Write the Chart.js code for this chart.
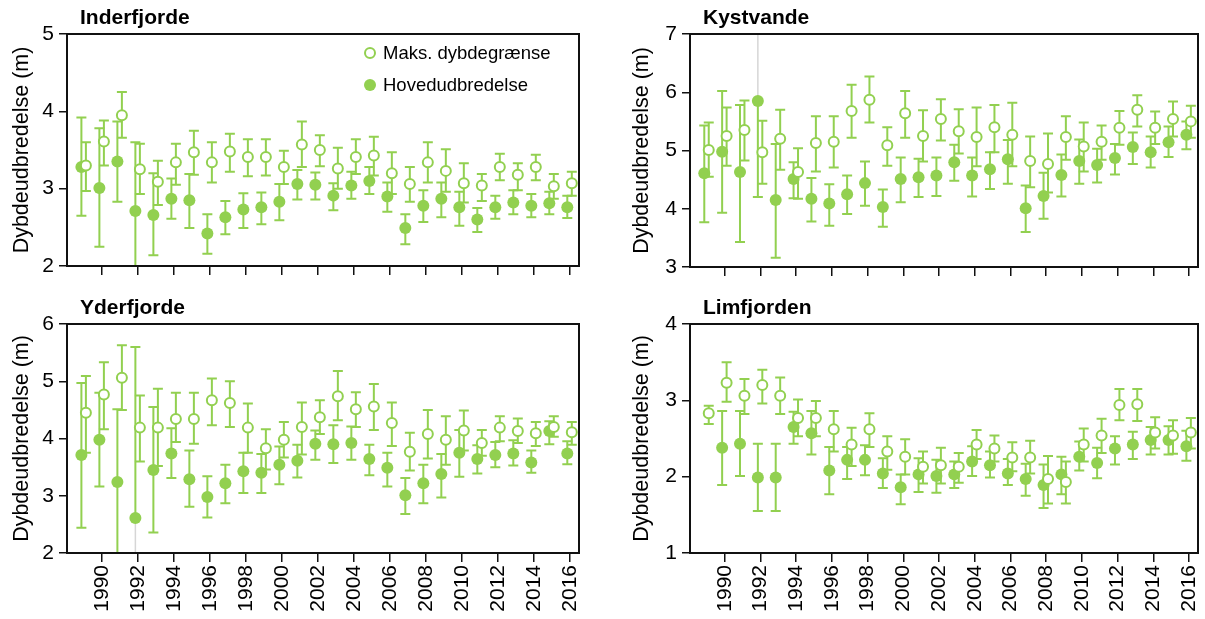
<!DOCTYPE html>
<html>
<head>
<meta charset="utf-8">
<script src="https://cdn.jsdelivr.net/npm/chart.js@4"></script>
<style>
  html, body { margin: 0; padding: 0; background: #fff; }
  #wrap { position: relative; width: 1205px; height: 619px; overflow: hidden; }
  canvas { position: absolute; }
</style>
</head>
<body>
<div id="wrap">
  <canvas id="cInder" width="600" height="290" style="left:0;top:0"></canvas>
  <canvas id="cKyst" width="605" height="290" style="left:600px;top:0"></canvas>
  <canvas id="cYder" width="600" height="329" style="left:0;top:290px"></canvas>
  <canvas id="cLim" width="605" height="329" style="left:600px;top:290px"></canvas>
</div>
<script>
// --- Data ---
const years = [1989, 1990, 1991, 1992, 1993, 1994, 1995, 1996, 1997, 1998, 1999, 2000, 2001, 2002,
               2003, 2004, 2005, 2006, 2007, 2008, 2009, 2010, 2011, 2012, 2013, 2014, 2015, 2016];
const yearTicks = [1990, 1992, 1994, 1996, 1998, 2000, 2002, 2004, 2006, 2008, 2010, 2012, 2014, 2016];

const labelMaks = 'Maks. dybdegrænse';
const labelHoved = 'Hovedudbredelse';
const yTitle = 'Dybdeudbredelse (m)';

// Inderfjorde
const inderMaks   = [3.30, 3.61, 3.95, 3.25, 3.09, 3.34, 3.47, 3.34, 3.48, 3.41, 3.41, 3.28, 3.57, 3.50, 3.26, 3.41, 3.43, 3.20, 3.06, 3.34, 3.23, 3.07, 3.04, 3.28, 3.18, 3.28, 3.03, 3.07];
const inderMaksLo = [2.97, 3.30, 3.66, 2.93, 2.79, 3.05, 3.18, 3.08, 3.22, 3.16, 3.17, 3.06, 3.28, 3.29, 3.00, 3.19, 3.17, 2.93, 2.83, 3.08, 2.96, 2.82, 2.84, 3.11, 2.98, 3.11, 2.87, 2.91];
const inderMaksHi = [3.60, 3.88, 4.25, 3.58, 3.36, 3.58, 3.75, 3.60, 3.71, 3.64, 3.64, 3.49, 3.87, 3.69, 3.53, 3.64, 3.67, 3.47, 3.28, 3.60, 3.51, 3.33, 3.19, 3.45, 3.33, 3.44, 3.19, 3.22];
const inderHoved   = [3.28, 3.01, 3.35, 2.71, 2.66, 2.87, 2.85, 2.42, 2.63, 2.73, 2.76, 2.83, 3.06, 3.05, 2.91, 3.04, 3.10, 2.90, 2.49, 2.78, 2.87, 2.76, 2.60, 2.76, 2.82, 2.78, 2.81, 2.76];
const inderHovedLo = [2.65, 2.25, 2.83, 1.80, 2.14, 2.61, 2.49, 2.16, 2.41, 2.49, 2.54, 2.59, 2.86, 2.86, 2.72, 2.87, 2.93, 2.70, 2.28, 2.57, 2.63, 2.52, 2.44, 2.61, 2.67, 2.63, 2.67, 2.62];
const inderHovedHi = [3.92, 3.78, 3.87, 3.60, 3.20, 3.13, 3.19, 2.67, 2.84, 2.94, 2.95, 3.06, 3.24, 3.21, 3.07, 3.22, 3.28, 3.08, 2.67, 2.98, 3.08, 2.96, 2.75, 2.91, 2.98, 2.93, 2.96, 2.91];

// Kystvande
const kystMaks   = [5.01, 5.25, 5.35, 4.97, 5.20, 4.63, 5.13, 5.15, 5.68, 5.87, 5.09, 5.64, 5.25, 5.54, 5.33, 5.23, 5.40, 5.27, 4.82, 4.77, 5.23, 5.07, 5.15, 5.39, 5.70, 5.39, 5.54, 5.50];
const kystMaksLo = [4.55, 4.74, 4.83, 4.43, 4.67, 4.17, 4.64, 4.71, 5.22, 5.48, 4.74, 5.22, 4.81, 5.17, 4.95, 4.73, 4.97, 4.73, 4.37, 4.28, 4.84, 4.64, 4.84, 5.10, 5.41, 5.11, 5.24, 5.22];
const kystMaksHi = [5.48, 5.74, 5.86, 5.51, 5.70, 5.04, 5.59, 5.59, 6.13, 6.27, 5.40, 6.02, 5.69, 5.88, 5.71, 5.74, 5.78, 5.82, 5.24, 5.29, 5.59, 5.48, 5.43, 5.68, 5.95, 5.67, 5.84, 5.77];
const kystHoved   = [4.61, 4.98, 4.63, 5.85, 4.15, 4.51, 4.17, 4.09, 4.25, 4.44, 4.03, 4.51, 4.54, 4.57, 4.80, 4.57, 4.68, 4.85, 4.01, 4.22, 4.58, 4.82, 4.75, 4.87, 5.06, 4.97, 5.14, 5.27];
const kystHovedLo = [3.77, 3.93, 3.43, 4.20, 3.16, 4.18, 3.78, 3.71, 3.91, 4.05, 3.69, 4.11, 4.20, 4.22, 4.48, 4.21, 4.34, 4.43, 3.60, 3.83, 4.21, 4.43, 4.45, 4.59, 4.77, 4.71, 4.89, 5.02];
const kystHovedHi = [5.43, 6.02, 5.78, null, 5.11, 4.80, 4.53, 4.42, 4.57, 4.81, 4.33, 4.88, 4.86, 4.88, 5.10, 4.88, 4.97, 5.18, 4.40, 4.62, 4.93, 5.19, 5.03, 5.11, 5.31, 5.24, 5.41, 5.50];
const kystGuide = [[1992, 5.85, 7]];   // faint grey line in the original

// Yderfjorde
const yderMaks   = [4.45, 4.77, 5.06, 4.19, 4.19, 4.34, 4.34, 4.67, 4.62, 4.19, 3.83, 3.98, 4.20, 4.37, 4.74, 4.51, 4.56, 4.27, 3.77, 4.08, 3.98, 4.14, 3.92, 4.19, 4.13, 4.09, 4.20, 4.11];
const yderMaksLo = [3.75, 4.16, 4.50, 3.60, 3.52, 3.94, 3.91, 4.23, 4.20, 3.75, 3.46, 3.67, 3.72, 4.08, 4.32, 4.20, 4.15, 3.87, 3.44, 3.65, 3.54, 3.79, 3.70, 3.95, 3.92, 3.87, 4.03, 3.89];
const yderMaksHi = [5.09, 5.33, 5.63, 4.75, 4.87, 4.80, 4.80, 5.05, 5.00, 4.61, 4.16, 4.29, 4.63, 4.67, 5.18, 4.81, 4.95, 4.63, 4.10, 4.50, 4.39, 4.49, 4.15, 4.39, 4.35, 4.29, 4.39, 4.29];
const yderHoved   = [3.71, 3.98, 3.24, 2.61, 3.45, 3.74, 3.29, 2.98, 3.22, 3.43, 3.40, 3.54, 3.61, 3.91, 3.90, 3.92, 3.64, 3.49, 3.01, 3.22, 3.38, 3.75, 3.64, 3.71, 3.74, 3.58, 4.13, 3.74];
const yderHovedLo = [2.44, 3.16, 1.70, null, 2.36, 3.31, 2.81, 2.62, 2.87, 3.05, 3.05, 3.20, 3.32, 3.63, 3.57, 3.63, 3.36, 3.16, 2.68, 2.87, 2.97, 3.33, 3.39, 3.50, 3.53, 3.40, 3.90, 3.55];
const yderHovedHi = [4.97, 4.80, 4.51, 5.60, 4.55, 4.18, 3.79, 3.34, 3.54, 3.75, 3.73, 3.86, 3.89, 4.14, 4.23, 4.21, 3.89, 3.75, 3.31, 3.54, 3.73, 4.15, 3.88, 3.94, 3.97, 3.79, 4.30, 3.95];
const yderGuide = [[1992, 2, 2.61]];

// Limfjorden
const limMaks   = [2.83, 3.23, 3.06, 3.20, 3.06, 2.77, 2.77, 2.62, 2.42, 2.62, 2.33, 2.26, 2.13, 2.15, 2.13, 2.42, 2.37, 2.25, 2.25, 1.97, 1.93, 2.42, 2.54, 2.94, 2.95, 2.58, 2.54, 2.58];
const limMaksLo = [2.69, 2.98, 2.82, 2.96, 2.82, 2.53, 2.53, 2.33, 2.14, 2.39, 2.09, 2.03, 1.91, 1.91, 1.92, 2.23, 2.20, 2.07, 2.04, 1.65, 1.65, 2.20, 2.31, 2.74, 2.73, 2.37, 2.30, 2.37];
const limMaksHi = [2.93, 3.50, 3.28, 3.40, 3.30, 3.01, 2.99, 2.86, 2.64, 2.83, 2.53, 2.49, 2.33, 2.38, 2.31, 2.61, 2.54, 2.45, 2.47, 2.27, 2.20, 2.63, 2.76, 3.15, 3.15, 2.78, 2.74, 2.77];
const limHoved   = [null, 2.38, 2.43, 1.99, 1.99, 2.65, 2.57, 2.08, 2.22, 2.22, 2.04, 1.86, 2.03, 2.01, 2.03, 2.20, 2.15, 2.04, 1.97, 1.89, 2.03, 2.26, 2.18, 2.37, 2.42, 2.48, 2.48, 2.40];
const limHovedLo = [null, 1.89, 2.01, 1.55, 1.55, 2.43, 2.29, 1.77, 1.97, 2.02, 1.85, 1.64, 1.80, 1.79, 1.85, 2.01, 1.99, 1.89, 1.75, 1.59, 1.77, 2.08, 1.98, 2.16, 2.23, 2.29, 2.29, 2.21];
const limHovedHi = [null, 2.86, 2.86, 2.43, 2.43, 2.85, 2.86, 2.39, 2.39, 2.41, 2.24, 2.03, 2.24, 2.22, 2.20, 2.40, 2.33, 2.23, 2.17, 2.16, 2.26, 2.46, 2.38, 2.53, 2.59, 2.65, 2.66, 2.60];

// --- Styling ---
const GREEN = '#92D050';
const FONT = '"Liberation Sans", Arial, sans-serif';
const X_MIN = 1988.05, X_MAX = 2016.5;
const DODGE_HOVED = -0.15, DODGE_MAKS = 0.1;

// error bars drawn right before each dataset's points
const errorBars = {
    id: 'errorBars',
    beforeDatasetDraw(chart, args) {
        const ds = chart.data.datasets[args.index];
        if (!ds.lo) return;
        const xs = chart.scales.x, ys = chart.scales.y;
        const ctx = chart.ctx, a = chart.chartArea;
        ctx.save();
        ctx.beginPath();
        ctx.rect(a.left, a.top, a.width, a.height);
        ctx.clip();
        ctx.strokeStyle = GREEN;
        ctx.lineWidth = 2;
        ds.data.forEach((p, i) => {
            if (p.y == null) return;
            const px = xs.getPixelForValue(p.x);
            const py = ys.getPixelForValue(p.y);
            [ds.lo[i], ds.hi[i]].forEach(v => {
                if (v == null) return;
                const pv = ys.getPixelForValue(v);
                ctx.beginPath();
                ctx.moveTo(px, py);
                ctx.lineTo(px, pv);
                ctx.moveTo(px - 5, pv);
                ctx.lineTo(px + 5, pv);
                ctx.stroke();
            });
        });
        ctx.restore();
    }
};

// faint grey guide line + frame + title + legend
const decor = {
    id: 'decor',
    beforeDatasetsDraw(chart, args, opts) {
        if (!opts.guides) return;
        const xs = chart.scales.x, ys = chart.scales.y, ctx = chart.ctx;
        ctx.save();
        ctx.strokeStyle = '#d6d6d6';
        ctx.lineWidth = 1.5;
        opts.guides.forEach(g => {
            const px = xs.getPixelForValue(g[0] + DODGE_HOVED);
            ctx.beginPath();
            ctx.moveTo(px, ys.getPixelForValue(g[1]));
            ctx.lineTo(px, ys.getPixelForValue(g[2]));
            ctx.stroke();
        });
        ctx.restore();
    },
    afterDatasetsDraw(chart, args, opts) {
        const ctx = chart.ctx, a = chart.chartArea;
        ctx.save();
        ctx.strokeStyle = '#111';
        ctx.lineWidth = 2;
        ctx.strokeRect(a.left, a.top, a.width, a.height);

        ctx.fillStyle = '#000';
        ctx.font = 'bold 21px ' + FONT;
        ctx.textBaseline = 'middle';
        ctx.textAlign = 'left';
        ctx.fillText(opts.title, a.left + 13, 18);

        if (opts.legend) {
            const lx = a.left + 303;
            const rows = [chart.data.datasets[0], chart.data.datasets[1]];
            ctx.font = '18.5px ' + FONT;
            rows.forEach((ds, i) => {
                const ly = a.top + 19 + i * 32;
                ctx.beginPath();
                ctx.arc(lx, ly, ds.pointRadius, 0, Math.PI * 2);
                ctx.fillStyle = ds.pointBackgroundColor;
                ctx.fill();
                if (ds.pointBorderWidth) {
                    ctx.lineWidth = ds.pointBorderWidth;
                    ctx.strokeStyle = GREEN;
                    ctx.stroke();
                }
                ctx.fillStyle = '#000';
                ctx.fillText(ds.label, lx + 13, ly + 1);
            });
        }
        ctx.restore();
    }
};

function points(vals, dodge) {
    return years.map((yr, i) => ({ x: yr + dodge, y: vals[i] }));
}

function makePanel(id, p) {
    const tickFont = { family: FONT, size: 21 };
    return new Chart(document.getElementById(id), {
        type: 'scatter',
        data: {
            datasets: [
                {
                    label: labelMaks,
                    data: points(p.maks, DODGE_MAKS),
                    lo: p.maksLo, hi: p.maksHi,
                    pointRadius: 5,
                    pointBorderWidth: 2,
                    pointBackgroundColor: '#ffffff',
                    pointBorderColor: GREEN,
                    borderColor: GREEN,
                    showLine: false
                },
                {
                    label: labelHoved,
                    data: points(p.hoved, DODGE_HOVED),
                    lo: p.hovedLo, hi: p.hovedHi,
                    pointRadius: 6,
                    pointBorderWidth: 0,
                    pointBackgroundColor: GREEN,
                    pointBorderColor: GREEN,
                    borderColor: GREEN,
                    showLine: false
                }
            ]
        },
        options: {
            responsive: false,
            animation: false,
            events: [],
            layout: { padding: { top: 34, right: p.padRight, left: 0, bottom: 0 } },
            plugins: {
                legend: { display: false },
                tooltip: { enabled: false },
                decor: { title: p.title, legend: p.legend, guides: p.guides }
            },
            scales: {
                x: {
                    type: 'linear',
                    min: X_MIN,
                    max: X_MAX,
                    afterBuildTicks: s => { s.ticks = yearTicks.map(v => ({ value: v })); },
                    afterFit: s => { s.height = p.xHeight; s.paddingLeft = 0; s.paddingRight = 0; },
                    border: { display: false },
                    grid: { drawOnChartArea: false, drawTicks: true, tickLength: 9, color: '#111', lineWidth: 1.5 },
                    ticks: {
                        display: p.yearLabels,
                        autoSkip: false,
                        minRotation: 90,
                        maxRotation: 90,
                        padding: 3,
                        color: '#000',
                        font: tickFont,
                        callback: v => String(v)
                    }
                },
                y: {
                    min: p.yMin,
                    max: p.yMax,
                    afterBuildTicks: s => {
                        const t = [];
                        for (let v = p.yMin; v <= p.yMax; v++) t.push({ value: v });
                        s.ticks = t;
                    },
                    afterFit: s => { s.width = p.yWidth; s.paddingTop = 0; s.paddingBottom = 0; },
                    border: { display: false },
                    grid: { drawOnChartArea: false, drawTicks: true, tickLength: 8, color: '#111', lineWidth: 1.5 },
                    ticks: { padding: 5, color: '#000', font: tickFont, callback: v => String(v) },
                    title: {
                        display: true,
                        text: yTitle,
                        color: '#000',
                        font: { family: FONT, size: 21.5 },
                        padding: { top: p.titlePad, bottom: 0 }
                    }
                }
            }
        },
        plugins: [errorBars, decor]
    });
}

makePanel('cInder', {
    title: 'Inderfjorde', legend: true, yMin: 2, yMax: 5,
    maks: inderMaks, maksLo: inderMaksLo, maksHi: inderMaksHi,
    hoved: inderHoved, hovedLo: inderHovedLo, hovedHi: inderHovedHi,
    yWidth: 67, padRight: 21, xHeight: 24, yearLabels: false, titlePad: 9
});
makePanel('cKyst', {
    title: 'Kystvande', legend: false, yMin: 3, yMax: 7, guides: kystGuide,
    maks: kystMaks, maksLo: kystMaksLo, maksHi: kystMaksHi,
    hoved: kystHoved, hovedLo: kystHovedLo, hovedHi: kystHovedHi,
    yWidth: 90, padRight: 2, xHeight: 23, yearLabels: false, titlePad: 29
});
makePanel('cYder', {
    title: 'Yderfjorde', legend: false, yMin: 2, yMax: 6, guides: yderGuide,
    maks: yderMaks, maksLo: yderMaksLo, maksHi: yderMaksHi,
    hoved: yderHoved, hovedLo: yderHovedLo, hovedHi: yderHovedHi,
    yWidth: 67, padRight: 21, xHeight: 66, yearLabels: true, titlePad: 9
});
makePanel('cLim', {
    title: 'Limfjorden', legend: false, yMin: 1, yMax: 4,
    maks: limMaks, maksLo: limMaksLo, maksHi: limMaksHi,
    hoved: limHoved, hovedLo: limHovedLo, hovedHi: limHovedHi,
    yWidth: 90, padRight: 2, xHeight: 66, yearLabels: true, titlePad: 29
});
</script>
</body>
</html>
